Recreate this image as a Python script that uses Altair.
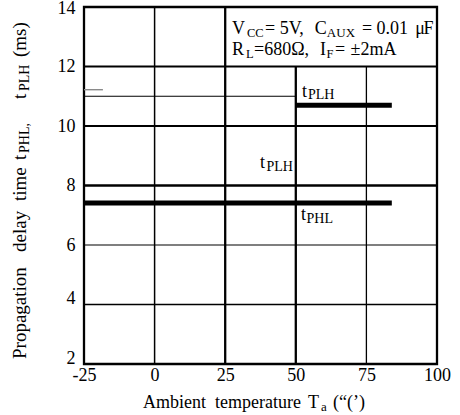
import altair as alt
import pandas as pd

SERIF = "Liberation Serif"

# Propagation delay versus ambient temperature
phl_temp = [-25, 84]
phl_delay = [7.41, 7.41]
plh_temp = [50, 84]
plh_delay = [10.7, 10.7]

x_ticks = [-25, 0, 25, 50, 75, 100]
y_ticks = [2, 4, 6, 8, 10, 12, 14]

# Grid segments: x, x2, y, y2, stroke width, colour
grid_rows = [
    (0, 0, 2, 14, 1.5, "black"),
    (25, 25, 2, 14, 2.3, "black"),
    (50, 50, 2, 12, 2.3, "black"),
    (75, 75, 2, 12, 1.3, "black"),
    (-25, 100, 4, 4, 1.4, "black"),
    (-25, 100, 6, 6, 1.2, "black"),
    (-25, 100, 8, 8, 2.3, "black"),
    (-25, 100, 10, 10, 1.8, "black"),
    (-25, 50, 11, 11, 1.2, "black"),
    (-25, 100, 12, 12, 1.8, "black"),
    (-25, -18.3, 11.22, 11.22, 1.4, "#8a8a8a"),
]
grid = pd.DataFrame(grid_rows, columns=["x", "x2", "y", "y2", "w", "c"])

series = pd.DataFrame({
    "temp": phl_temp + plh_temp,
    "delay": phl_delay + plh_delay,
    "name": ["tPHL"] * 2 + ["tPLH"] * 2,
})

# Text pieces (main text and subscripts) placed in data units
notes = pd.DataFrame([
    ("t", 52.2, 10.975, 18), ("PLH", 54.3, 10.92, 14),
    ("t", 37.3, 8.59, 18), ("PLH", 39.6, 8.49, 14),
    ("t", 51.8, 6.84, 18), ("PHL", 53.8, 6.74, 14),
    ("V", 27.4, 13.09, 18), ("CC", 32.7, 12.99, 12.5),
    ("= 5V,", 39.1, 13.09, 18), ("C", 56.7, 13.09, 18),
    ("AUX", 61.0, 12.99, 13),
    ("= 0.01", 73.4, 13.09, 18), ("\u03bc", 92.3, 13.09, 18),
    ("F", 95.2, 13.09, 18),
    ("R", 27.4, 12.387, 18), ("L", 32.4, 12.29, 12.5),
    ("=680\u03a9,", 35.2, 12.387, 18), ("I", 58.6, 12.387, 18),
    ("F", 60.9, 12.29, 12.5), ("=", 63.9, 12.387, 18),
    ("\u00b12mA", 69.4, 12.387, 18),
], columns=["text", "x", "y", "size"])

xscale = alt.Scale(domain=[-25, 100], nice=False, zero=False)
yscale = alt.Scale(domain=[2, 14], nice=False, zero=False)
xaxis = alt.Axis(values=x_ticks, labelExpr="'' + datum.value", ticks=False,
                 domain=False, grid=False, labelPadding=2, labelFlush=False,
                 labelFont=SERIF, labelFontSize=18, labelColor="black", title=None)
yaxis = alt.Axis(values=y_ticks, ticks=False, domain=False, grid=False,
                 labelPadding=9, labelFont=SERIF, labelFontSize=18,
                 labelColor="black", title=None,
                 labelOffset={"condition": [
                     {"test": "datum.value <= 4", "value": -6},
                     {"test": "datum.value >= 14", "value": 1.5},
                 ], "value": 0})

grid_layer = alt.Chart(grid).mark_rule().encode(
    x=alt.X("x:Q", scale=xscale, axis=xaxis),
    x2="x2:Q",
    y=alt.Y("y:Q", scale=yscale, axis=yaxis),
    y2="y2:Q",
    strokeWidth=alt.StrokeWidth("w:Q", scale=None),
    color=alt.Color("c:N", scale=None),
)

lines = alt.Chart(series).mark_line(strokeWidth=5, strokeCap="butt", color="black").encode(
    x=alt.X("temp:Q", scale=xscale, axis=xaxis),
    y=alt.Y("delay:Q", scale=yscale, axis=yaxis),
    detail="name:N",
)

labels = alt.Chart(notes).mark_text(
    align="left", baseline="alphabetic", font=SERIF, color="black"
).encode(
    x=alt.X("x:Q", scale=xscale, axis=xaxis),
    y=alt.Y("y:Q", scale=yscale, axis=yaxis),
    text="text:N",
    size=alt.Size("size:Q", scale=None),
)


def piece(text, x, y, size, angle=0):
    return alt.Chart(pd.DataFrame({"t": [text]})).mark_text(
        align="left", baseline="alphabetic", font=SERIF, fontSize=size,
        angle=angle, color="black",
    ).encode(x=alt.value(x), y=alt.value(y), text="t:N")


# Axis titles with subscripts
title_parts = [
    piece("Ambient", 59, 401, 18),
    piece("temperature", 131, 401, 18),
    piece("T", 224, 401, 18),
    piece("a", 237, 404, 13),
    piece("(\u201c(\u2019)", 249, 401, 18),
    piece("Propagation", -58, 352, 19, 270),
    piece("delay", -58, 245, 19, 270),
    piece("time", -58, 194, 19, 270),
    piece("t", -58, 153, 19, 270),
    piece("PHL,", -55, 146, 14, 270),
    piece("t", -58, 92, 19, 270),
    piece("PLH", -55, 84, 14, 270),
    piece("(ms)", -58, 50, 19, 270),
]

chart = alt.layer(grid_layer, lines, labels, *title_parts).properties(
    width=353,
    height=357,
    autosize=alt.AutoSizeParams(type="none"),
    padding={"left": 84, "top": 7, "right": 23, "bottom": 51},
    background="white",
).configure_view(
    stroke="black", strokeWidth=2.3
).configure_axis(
    labelFont=SERIF, labelFontSize=18, labelColor="black"
)

chart.save("out.html", embed_options={"renderer": "svg", "actions": False})
